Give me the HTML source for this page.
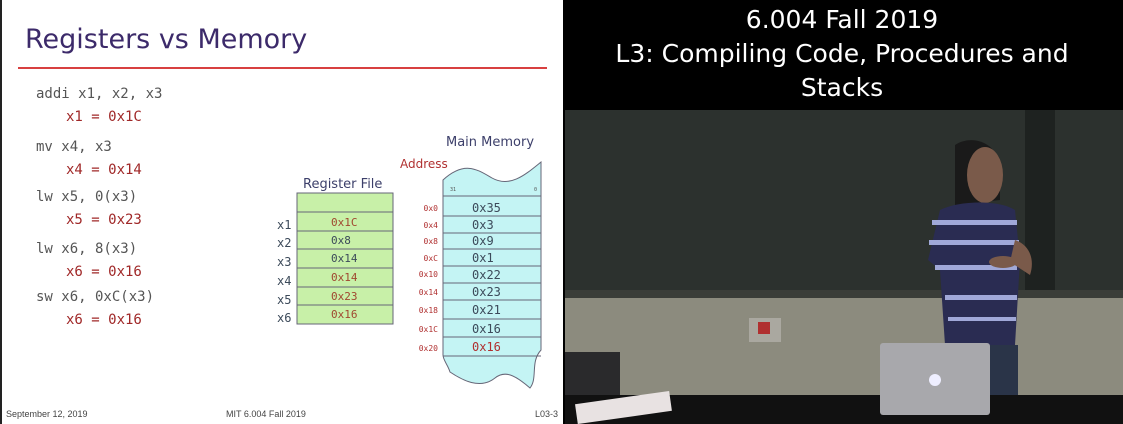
<!DOCTYPE html>
<html><head><meta charset="utf-8"><style>
html,body{margin:0;padding:0;background:#000;}
svg{display:block}
</style></head><body>
<svg width="1123" height="424" viewBox="0 0 1123 424" xmlns="http://www.w3.org/2000/svg">
<rect x="0" y="0" width="563" height="424" fill="#fff"/>
<rect x="0" y="0" width="2" height="424" fill="#222"/>
<text x="25" y="48" font-family="DejaVu Sans, sans-serif" font-size="27" fill="#3c2a6a">Registers vs Memory</text>
<rect x="18" y="67" width="529" height="2" fill="#d84040"/>
<g font-family="DejaVu Sans Mono, Liberation Mono, monospace" font-size="14">
<text x="36" y="98" fill="#555">addi x1, x2, x3</text>
<text x="66" y="121" fill="#a02828">x1 = 0x1C</text>
<text x="36" y="151" fill="#555">mv x4, x3</text>
<text x="66" y="174" fill="#a02828">x4 = 0x14</text>
<text x="36" y="201" fill="#555">lw x5, 0(x3)</text>
<text x="66" y="224" fill="#a02828">x5 = 0x23</text>
<text x="36" y="253" fill="#555">lw x6, 8(x3)</text>
<text x="66" y="276" fill="#a02828">x6 = 0x16</text>
<text x="36" y="301" fill="#555">sw x6, 0xC(x3)</text>
<text x="66" y="324" fill="#a02828">x6 = 0x16</text>
</g>
<text x="303" y="188" font-family="DejaVu Sans, sans-serif" font-size="13" fill="#3c3f6a">Register File</text>
<rect x="297" y="193" width="96" height="131" fill="#c8f0a8" stroke="#667" stroke-width="1"/>
<g stroke="#667" stroke-width="1">
<line x1="297" y1="212" x2="393" y2="212"/><line x1="297" y1="231" x2="393" y2="231"/>
<line x1="297" y1="249" x2="393" y2="249"/><line x1="297" y1="268" x2="393" y2="268"/>
<line x1="297" y1="287" x2="393" y2="287"/><line x1="297" y1="305" x2="393" y2="305"/>
</g>
<g font-family="DejaVu Sans Mono, monospace" font-size="11">
<text x="331" y="226" fill="#a04830">0x1C</text>
<text x="331" y="244" fill="#3c4a5a">0x8</text>
<text x="331" y="262" fill="#3c4a5a">0x14</text>
<text x="331" y="281" fill="#a04830">0x14</text>
<text x="331" y="300" fill="#a04830">0x23</text>
<text x="331" y="318" fill="#a04830">0x16</text>
<g fill="#3c4a5a" font-size="12">
<text x="277" y="229">x1</text><text x="277" y="247">x2</text><text x="277" y="266">x3</text>
<text x="277" y="285">x4</text><text x="277" y="304">x5</text><text x="277" y="322">x6</text>
</g>
</g>
<text x="446" y="146" font-family="DejaVu Sans, sans-serif" font-size="13" fill="#3c3f6a">Main Memory</text>
<text x="400" y="168" font-family="DejaVu Sans, sans-serif" font-size="12" fill="#b03030">Address</text>
<path d="M443 180 C465 160,478 170,492 178 C510 188,525 175,541 162 L541 350 C530 362,538 378,530 388 C515 375,505 370,495 378 C480 390,462 380,450 372 C448 365,443 360,443 355 Z" fill="#c4f4f4" stroke="#667" stroke-width="1"/>
<g stroke="#667" stroke-width="1">
<line x1="443" y1="196" x2="541" y2="196"/><line x1="443" y1="216" x2="541" y2="216"/>
<line x1="443" y1="233" x2="541" y2="233"/><line x1="443" y1="249" x2="541" y2="249"/>
<line x1="443" y1="266" x2="541" y2="266"/><line x1="443" y1="283" x2="541" y2="283"/>
<line x1="443" y1="300" x2="541" y2="300"/><line x1="443" y1="319" x2="541" y2="319"/>
<line x1="443" y1="337" x2="541" y2="337"/><line x1="443" y1="356" x2="541" y2="356"/>
</g>
<g font-family="DejaVu Sans Mono, monospace" font-size="5" fill="#555"><text x="450" y="191">31</text><text x="534" y="191">0</text></g>
<g font-family="DejaVu Sans Mono, monospace" font-size="12" fill="#3c4a5a">
<text x="472" y="212">0x35</text><text x="472" y="229">0x3</text><text x="472" y="245">0x9</text>
<text x="472" y="262">0x1</text><text x="472" y="279">0x22</text><text x="472" y="296">0x23</text>
<text x="472" y="314">0x21</text><text x="472" y="333">0x16</text><text x="472" y="351" fill="#b03030">0x16</text>
</g>
<g font-family="DejaVu Sans Mono, monospace" font-size="8" fill="#b03030" text-anchor="end">
<text x="438" y="211">0x0</text><text x="438" y="228">0x4</text><text x="438" y="244">0x8</text>
<text x="438" y="261">0xC</text><text x="438" y="277">0x10</text><text x="438" y="295">0x14</text>
<text x="438" y="313">0x18</text><text x="438" y="332">0x1C</text><text x="438" y="351">0x20</text>
</g>
<g font-family="Liberation Sans, sans-serif" font-size="9" fill="#444">
<text x="6" y="417">September 12, 2019</text>
<text x="226" y="417">MIT 6.004 Fall 2019</text>
<text x="535" y="417">L03-3</text>
</g>
<rect x="563" y="0" width="560" height="424" fill="#000"/>
<g font-family="DejaVu Sans, Liberation Sans, sans-serif" font-size="25" fill="#fff" text-anchor="middle">
<text x="842" y="28">6.004 Fall 2019</text>
<text x="842" y="62">L3: Compiling Code, Procedures and</text>
<text x="842" y="96">Stacks</text>
</g>
<rect x="565" y="110" width="558" height="186" fill="#2c312e"/>
<rect x="1025" y="110" width="30" height="186" fill="#1e2220"/>
<rect x="565" y="290" width="558" height="8" fill="#3a3d38"/>
<rect x="565" y="298" width="558" height="100" fill="#8c8b7e"/>
<rect x="565" y="352" width="55" height="50" fill="#2a2a2c"/>
<rect x="565" y="395" width="558" height="29" fill="#111"/>
<rect x="576" y="398" width="95" height="20" fill="#e8e2e2" transform="rotate(-8 620 408)"/>
<rect x="749" y="318" width="32" height="24" fill="#aaa8a0"/>
<rect x="758" y="322" width="12" height="12" fill="#b03030"/>
<path d="M955 145 C970 135,995 140,1000 165 L1000 200 L955 205 Z" fill="#1a1a1a"/>
<ellipse cx="985" cy="175" rx="18" ry="28" fill="#7a5a4a"/>
<path d="M940 210 C960 200,1000 200,1015 210 L1020 260 L1015 345 L945 345 L940 270 L928 260 Z" fill="#2a2c52"/>
<g fill="#a0a8d8"><rect x="932" y="220" width="85" height="5"/><rect x="929" y="240" width="90" height="5"/><rect x="935" y="265" width="82" height="5"/><rect x="945" y="295" width="72" height="5"/><rect x="948" y="317" width="68" height="4"/></g>
<path d="M1015 240 C1030 245,1035 260,1030 275 L1010 262 Z" fill="#7a5a4a"/>
<ellipse cx="1003" cy="262" rx="14" ry="6" fill="#7a5a4a"/>
<rect x="948" y="345" width="70" height="50" fill="#2a3448"/>
<rect x="880" y="343" width="110" height="72" rx="3" fill="#a8a8ac"/>
<circle cx="935" cy="380" r="6" fill="#eef"/>
</svg>
</body></html>
